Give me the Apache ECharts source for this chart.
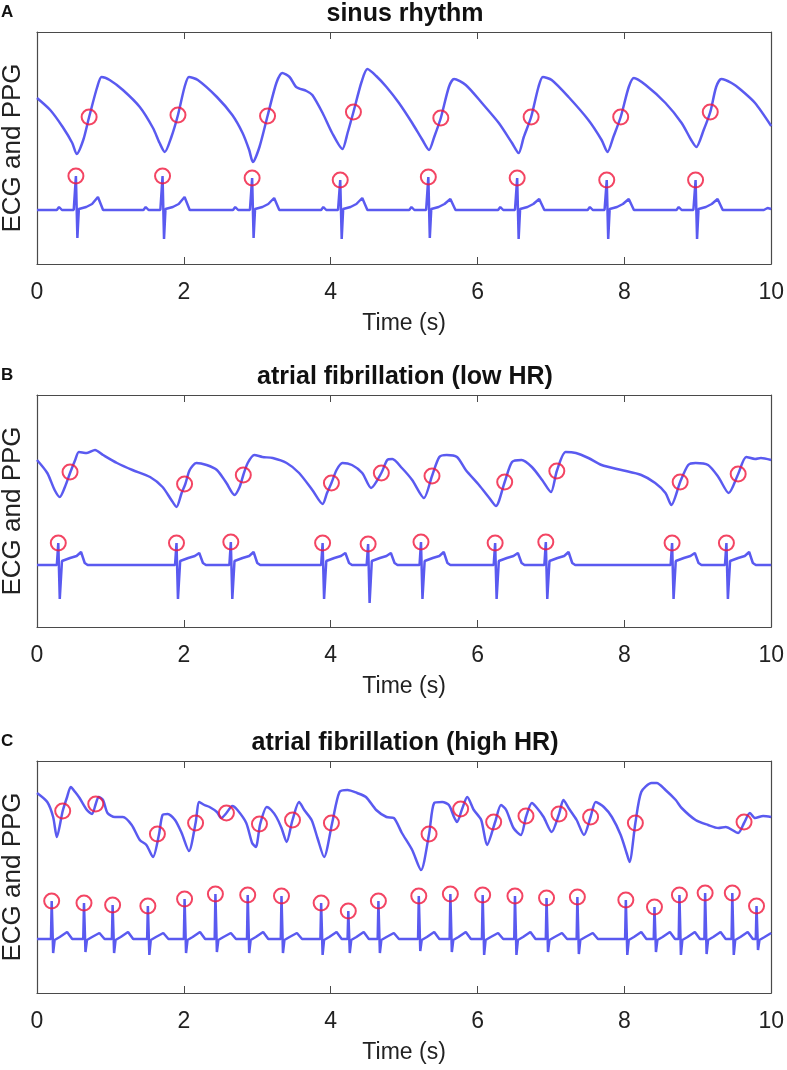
<!DOCTYPE html>
<html>
<head>
<meta charset="utf-8">
<title>ECG and PPG</title>
<script src="https://cdn.jsdelivr.net/npm/echarts/dist/echarts.min.js"></script>
<style>
  html, body { margin: 0; padding: 0; background: #fff; }
  #main { width: 787px; height: 1070px; }
</style>
</head>
<body>
<div id="main"></div>
<script>
// panel titles and letters
var panelTitles = ['sinus rhythm', 'atrial fibrillation (low HR)', 'atrial fibrillation (high HR)'];
var panelLetters = ['A', 'B', 'C'];
var xTicks = [0, 2, 4, 6, 8, 10];

// ---- A: sinus rhythm ----  [time (s), amplitude (a.u.)]
var ppgA = [[0,16.6],[0.18,15.4],[0.35,13.7],[0.48,12.1],[0.54,11.0],[0.63,12.4],[0.71,14.7],[0.82,17.7],[0.88,18.7],[0.99,18.4],
  [1.17,17.4],[1.40,15.7],[1.58,13.6],[1.67,12.1],[1.74,11.2],[1.83,12.7],[1.92,14.9],[2.01,17.7],[2.07,18.7],[2.19,18.4],
  [2.45,16.7],[2.66,14.9],[2.80,13.1],[2.89,11.4],[2.94,10.2],[3.03,11.7],[3.14,14.8],[3.26,18.1],[3.34,19.1],[3.44,18.7],
  [3.53,17.7],[3.67,17.3],[3.75,16.9],[3.89,15.1],[4.02,13.1],[4.16,11.5],[4.23,13.1],[4.31,15.2],[4.42,18.2],[4.50,19.5],
  [4.62,18.8],[4.76,17.7],[4.93,16.1],[5.11,14.1],[5.25,12.4],[5.34,11.4],[5.41,12.7],[5.50,14.6],[5.61,17.7],[5.68,18.5],
  [5.84,17.9],[6.06,16.1],[6.29,14.1],[6.47,12.1],[6.56,11.1],[6.63,12.7],[6.73,14.7],[6.83,17.7],[6.89,18.7],[7.01,18.4],
  [7.24,16.7],[7.51,14.4],[7.69,12.4],[7.77,11.2],[7.85,12.7],[7.95,14.7],[8.06,17.7],[8.13,18.6],[8.29,17.9],[8.56,16.1],
  [8.78,14.1],[8.91,12.4],[8.98,11.7],[9.08,13.4],[9.17,15.2],[9.25,17.7],[9.32,18.5],[9.46,18.1],[9.59,17.4],[9.78,16.1],[10,13.8]];
var ecgA = [[0,5.4],
  [0.27,5.4],[0.30,5.7],[0.34,5.4],[0.50,5.4],[0.53,8.8],[0.55,2.6],[0.57,5.5],[0.67,5.7],[0.75,6.0],[0.83,6.7],[0.90,5.4],
  [1.45,5.4],[1.48,5.7],[1.52,5.4],[1.68,5.4],[1.71,8.8],[1.73,2.5],[1.75,5.5],[1.85,5.7],[1.93,6.0],[2.01,6.7],[2.08,5.4],
  [2.67,5.4],[2.70,5.7],[2.74,5.4],[2.90,5.4],[2.93,8.6],[2.95,2.6],[2.97,5.5],[3.07,5.7],[3.15,6.0],[3.23,6.6],[3.30,5.4],
  [3.87,5.4],[3.90,5.7],[3.94,5.4],[4.10,5.4],[4.13,8.4],[4.15,2.5],[4.17,5.5],[4.27,5.7],[4.35,6.0],[4.43,6.6],[4.50,5.4],
  [5.07,5.4],[5.10,5.7],[5.14,5.4],[5.30,5.4],[5.33,8.7],[5.35,2.6],[5.37,5.5],[5.47,5.7],[5.55,6.0],[5.63,6.5],[5.70,5.4],
  [6.28,5.4],[6.31,5.7],[6.35,5.4],[6.51,5.4],[6.54,8.6],[6.56,2.5],[6.58,5.5],[6.68,5.7],[6.76,6.0],[6.84,6.5],[6.91,5.4],
  [7.50,5.4],[7.53,5.7],[7.57,5.4],[7.73,5.4],[7.76,8.4],[7.78,2.5],[7.80,5.5],[7.90,5.7],[7.98,6.0],[8.06,6.5],[8.13,5.4],
  [8.71,5.4],[8.74,5.7],[8.78,5.4],[8.94,5.4],[8.97,8.4],[8.99,2.5],[9.01,5.5],[9.11,5.7],[9.19,6.0],[9.27,6.5],[9.34,5.4],
  [9.90,5.4],[9.95,5.6],[10,5.5]];
var ppgMarksA = [[0.71,14.7],[1.92,14.9],[3.14,14.8],[4.31,15.2],[5.50,14.6],[6.73,14.7],[7.95,14.7],[9.17,15.2]];
var rPeaksA = [[0.53,8.8],[1.71,8.8],[2.93,8.6],[4.13,8.4],[5.33,8.7],[6.54,8.6],[7.76,8.4],[8.97,8.4]];

// ---- B: atrial fibrillation (low HR) ----
var ppgB = [[0,16.7],[0.14,15.4],[0.24,13.7],[0.31,13.0],[0.38,14.0],[0.45,15.4],[0.52,16.7],[0.57,17.5],[0.68,17.4],[0.79,17.7],
  [0.90,17.2],[1.09,16.4],[1.30,15.7],[1.54,15.0],[1.71,14.0],[1.83,12.7],[1.90,12.0],[1.97,13.4],[2.02,14.3],[2.08,15.7],
  [2.17,16.4],[2.31,16.2],[2.45,15.7],[2.58,14.4],[2.69,13.2],[2.76,14.0],[2.81,15.2],[2.87,16.4],[2.96,17.2],[3.07,17.0],
  [3.21,16.9],[3.40,16.4],[3.57,15.4],[3.75,13.7],[3.89,12.3],[3.95,13.4],[4.01,14.4],[4.08,15.7],[4.16,16.4],[4.29,16.2],
  [4.43,15.4],[4.55,13.9],[4.69,15.4],[4.77,16.7],[4.84,16.8],[4.97,15.9],[5.11,14.7],[5.27,12.9],[5.38,15.1],[5.48,17.0],
  [5.58,17.2],[5.72,17.0],[5.84,15.7],[6.02,14.2],[6.15,13.0],[6.25,12.1],[6.37,14.5],[6.47,16.5],[6.60,16.7],[6.74,16.0],
  [6.88,14.7],[7.00,13.5],[7.08,15.6],[7.20,17.5],[7.34,17.4],[7.51,16.9],[7.69,16.2],[7.96,15.7],[8.23,15.2],[8.42,14.4],
  [8.56,13.4],[8.64,12.2],[8.76,14.5],[8.87,16.2],[8.97,16.4],[9.14,16.2],[9.28,15.0],[9.42,13.4],[9.55,15.3],[9.66,17.0],
  [9.78,16.8],[9.86,16.9],[10,16.7]];
var ecgB = [[0,6.2],
  [0.27,6.2],[0.29,8.4],[0.31,2.8],[0.34,6.6],[0.45,6.9],[0.54,7.1],[0.60,7.5],[0.65,6.4],[0.69,6.2],
  [1.88,6.2],[1.90,8.4],[1.92,2.8],[1.95,6.6],[2.06,6.9],[2.15,7.1],[2.21,7.4],[2.26,6.4],[2.30,6.2],
  [2.62,6.2],[2.64,8.5],[2.66,2.8],[2.69,6.6],[2.80,6.9],[2.89,7.1],[2.95,7.5],[3.00,6.4],[3.04,6.2],
  [3.87,6.2],[3.89,8.4],[3.91,2.8],[3.94,6.6],[4.05,6.9],[4.14,7.1],[4.20,7.4],[4.25,6.4],[4.29,6.2],
  [4.49,6.2],[4.51,8.3],[4.53,2.4],[4.56,6.6],[4.67,6.9],[4.76,7.1],[4.82,7.4],[4.87,6.4],[4.91,6.2],
  [5.21,6.2],[5.23,8.5],[5.25,2.8],[5.28,6.6],[5.39,6.9],[5.48,7.1],[5.54,7.5],[5.59,6.4],[5.63,6.2],
  [6.22,6.2],[6.24,8.4],[6.26,2.8],[6.29,6.6],[6.40,6.9],[6.49,7.1],[6.55,7.4],[6.60,6.4],[6.64,6.2],
  [6.91,6.2],[6.93,8.5],[6.95,2.8],[6.98,6.6],[7.09,6.9],[7.18,7.1],[7.24,7.5],[7.29,6.4],[7.33,6.2],
  [8.63,6.2],[8.65,8.4],[8.67,2.8],[8.70,6.6],[8.81,6.9],[8.90,7.1],[8.96,7.4],[9.01,6.4],[9.05,6.2],
  [9.37,6.2],[9.39,8.4],[9.41,2.8],[9.44,6.6],[9.55,6.9],[9.64,7.1],[9.70,7.5],[9.75,6.4],[9.79,6.2],
  [10,6.2]];
var ppgMarksB = [[0.45,15.5],[2.01,14.3],[2.81,15.2],[4.01,14.4],[4.69,15.4],[5.38,15.1],[6.37,14.5],[7.08,15.6],[8.76,14.5],[9.55,15.3]];
var rPeaksB = [[0.29,8.4],[1.90,8.4],[2.64,8.5],[3.89,8.4],[4.51,8.3],[5.23,8.5],[6.24,8.4],[6.93,8.5],[8.65,8.4],[9.39,8.4]];

// ---- C: atrial fibrillation (high HR) ----
var ppgC = [[0,20.0],[0.14,19.1],[0.22,17.6],[0.27,15.6],[0.35,18.2],[0.41,19.6],[0.46,20.6],[0.52,20.1],[0.58,19.5],[0.68,18.3],
  [0.75,17.9],[0.80,18.9],[0.84,19.6],[0.90,19.3],[0.96,18.0],[1.06,17.6],[1.17,17.6],[1.29,16.8],[1.40,15.3],[1.49,14.8],
  [1.58,13.6],[1.66,15.8],[1.71,17.8],[1.78,17.9],[1.88,17.3],[1.97,16.0],[2.07,14.2],[2.16,17.0],[2.21,19.1],[2.28,18.8],
  [2.35,18.6],[2.45,18.1],[2.51,17.5],[2.58,18.0],[2.66,18.7],[2.73,18.3],[2.85,17.0],[2.93,15.0],[2.98,14.6],[3.04,16.9],
  [3.13,18.6],[3.19,18.3],[3.26,17.6],[3.33,16.5],[3.40,15.1],[3.48,17.3],[3.57,19.1],[3.64,18.3],[3.74,17.3],[3.82,15.5],
  [3.91,13.6],[4.02,17.0],[4.12,20.1],[4.23,20.3],[4.36,20.0],[4.48,19.6],[4.62,18.3],[4.76,17.6],[4.86,17.5],[4.97,16.0],
  [5.11,14.3],[5.23,12.3],[5.34,15.9],[5.41,19.0],[5.52,19.1],[5.61,18.8],[5.68,17.6],[5.72,17.1],[5.79,18.4],[5.86,19.6],
  [5.95,18.3],[6.05,17.3],[6.13,14.8],[6.24,17.1],[6.32,18.8],[6.39,18.3],[6.49,16.5],[6.59,15.8],[6.66,17.6],[6.74,19.0],
  [6.81,18.5],[6.90,17.6],[7.01,16.1],[7.11,17.9],[7.17,19.3],[7.24,18.5],[7.35,17.3],[7.45,15.8],[7.54,17.6],[7.61,19.1],
  [7.72,18.6],[7.83,17.6],[7.95,15.8],[8.03,14.0],[8.07,13.1],[8.15,17.0],[8.23,20.1],[8.37,21.0],[8.44,21.0],[8.56,20.3],
  [8.70,19.3],[8.78,18.5],[8.97,17.3],[9.14,16.8],[9.28,16.5],[9.38,16.6],[9.55,16.0],[9.63,17.0],[9.71,18.0],[9.78,17.5],
  [9.89,17.7],[10,17.6]];
var ecgC = [[0,5.4],
  [0.19,5.4],[0.20,9.2],[0.22,4.0],[0.24,5.3],[0.31,5.6],[0.41,6.1],[0.48,5.4],
  [0.63,5.4],[0.64,9.0],[0.66,4.1],[0.68,5.3],[0.75,5.6],[0.85,6.0],[0.92,5.4],
  [1.02,5.4],[1.03,8.8],[1.05,4.0],[1.07,5.3],[1.14,5.6],[1.24,6.1],[1.31,5.4],
  [1.50,5.4],[1.51,8.7],[1.53,3.8],[1.55,5.3],[1.62,5.6],[1.72,6.0],[1.79,5.4],
  [2.00,5.4],[2.01,9.4],[2.03,4.0],[2.05,5.3],[2.12,5.6],[2.22,6.1],[2.29,5.4],
  [2.42,5.4],[2.43,9.9],[2.45,4.1],[2.47,5.3],[2.54,5.6],[2.64,6.0],[2.71,5.4],
  [2.86,5.4],[2.87,9.8],[2.89,4.0],[2.91,5.3],[2.98,5.6],[3.08,6.1],[3.15,5.4],
  [3.32,5.4],[3.33,9.7],[3.35,4.0],[3.37,5.3],[3.44,5.6],[3.54,6.0],[3.61,5.4],
  [3.86,5.4],[3.87,9.0],[3.89,3.8],[3.91,5.3],[3.98,5.6],[4.08,6.1],[4.15,5.4],
  [4.23,5.4],[4.24,8.2],[4.26,4.0],[4.28,5.3],[4.35,5.6],[4.45,6.1],[4.52,5.4],
  [4.64,5.4],[4.65,9.2],[4.67,4.0],[4.69,5.3],[4.76,5.6],[4.86,6.0],[4.93,5.4],
  [5.19,5.4],[5.20,9.7],[5.22,4.2],[5.24,5.3],[5.31,5.6],[5.41,6.1],[5.48,5.4],
  [5.62,5.4],[5.63,9.9],[5.65,4.1],[5.67,5.3],[5.74,5.6],[5.84,6.1],[5.91,5.4],
  [6.06,5.4],[6.07,9.8],[6.09,3.8],[6.11,5.3],[6.18,5.6],[6.28,6.0],[6.35,5.4],
  [6.50,5.4],[6.51,9.7],[6.53,3.8],[6.55,5.3],[6.62,5.6],[6.72,6.1],[6.79,5.4],
  [6.93,5.4],[6.94,9.5],[6.96,4.1],[6.98,5.3],[7.05,5.6],[7.15,6.0],[7.22,5.4],
  [7.35,5.4],[7.36,9.6],[7.38,3.9],[7.40,5.3],[7.47,5.6],[7.57,6.0],[7.64,5.4],
  [8.01,5.4],[8.02,9.3],[8.04,3.8],[8.06,5.3],[8.13,5.6],[8.23,6.1],[8.30,5.4],
  [8.40,5.4],[8.41,8.6],[8.43,4.1],[8.45,5.3],[8.52,5.6],[8.62,6.1],[8.69,5.4],
  [8.74,5.4],[8.75,9.8],[8.77,3.8],[8.79,5.3],[8.86,5.6],[8.96,6.1],[9.03,5.4],
  [9.09,5.4],[9.10,10.0],[9.12,3.9],[9.14,5.3],[9.21,5.6],[9.31,6.1],[9.38,5.4],
  [9.46,5.4],[9.47,10.0],[9.49,3.8],[9.51,5.3],[9.58,5.6],[9.68,6.1],[9.75,5.4],
  [9.79,5.4],[9.80,8.7],[9.82,4.3],[9.84,5.3],[9.91,5.6],[10,6.0]];
var ppgMarksC = [[0.35,18.2],[0.80,18.9],[1.64,15.9],[2.16,17.0],[2.58,18.0],[3.03,16.9],[3.48,17.3],[4.01,17.0],
  [5.34,15.9],[5.77,18.4],[6.22,17.1],[6.66,17.7],[7.11,17.9],[7.54,17.6],[8.15,17.0],[9.63,17.1]];
var rPeaksC = [[0.20,9.2],[0.64,9.0],[1.03,8.8],[1.51,8.7],[2.01,9.4],[2.43,9.9],[2.87,9.8],[3.33,9.7],[3.87,9.0],[4.24,8.2],
  [4.65,9.2],[5.20,9.7],[5.63,9.9],[6.07,9.8],[6.51,9.7],[6.94,9.5],[7.36,9.6],[8.02,9.3],[8.41,8.6],[8.75,9.8],
  [9.10,10.0],[9.47,10.0],[9.80,8.7]];

var panels = [
  {ppg: ppgA, ecg: ecgA, ppgMarks: ppgMarksA, rPeaks: rPeaksA},
  {ppg: ppgB, ecg: ecgB, ppgMarks: ppgMarksB, rPeaks: rPeaksB},
  {ppg: ppgC, ecg: ecgC, ppgMarks: ppgMarksC, rPeaks: rPeaksC}
];

var LINE_COLOR = '#5a5af0';
var MARK_COLOR = '#f0163c';
var AXIS_COLOR = '#4a4a4a';
var FONT = 'Liberation Sans, Arial, sans-serif';
var gridTops = [32, 395, 761];
var GRID_H = 232, GRID_L = 37, GRID_R = 14;

var option = {
  animation: false,
  backgroundColor: '#fff',
  title: [], grid: [], xAxis: [], yAxis: [], series: [], graphic: []
};

for (var i = 0; i < 3; i++) {
  var gTop = gridTops[i];
  option.grid.push({left: GRID_L, right: GRID_R, top: gTop, height: GRID_H});
  option.title.push({
    text: panelTitles[i], left: 405, top: gTop - 30, textAlign: 'center', padding: 0,
    textStyle: {fontFamily: FONT, fontSize: 25, fontWeight: 'bold', color: '#111'}
  });
  // bottom x axis (labels + name)
  option.xAxis.push({
    type: 'value', gridIndex: i, min: 0, max: 10, interval: 2, position: 'bottom',
    axisLine: {onZero: false, lineStyle: {color: AXIS_COLOR, width: 1.2}},
    axisTick: {inside: true, length: 7, lineStyle: {color: AXIS_COLOR}},
    axisLabel: {fontFamily: FONT, fontSize: 23, color: '#222', margin: 17,
      formatter: function(v){ return xTicks.indexOf(v) >= 0 ? String(v) : ''; }},
    splitLine: {show: false},
    name: 'Time (s)', nameLocation: 'middle', nameGap: 48,
    nameTextStyle: {fontFamily: FONT, fontSize: 23, color: '#222'}
  });
  // top x axis (box + ticks only)
  option.xAxis.push({
    type: 'value', gridIndex: i, min: 0, max: 10, interval: 2, position: 'top',
    axisLine: {onZero: false, lineStyle: {color: AXIS_COLOR, width: 1.2}},
    axisTick: {inside: true, length: 7, lineStyle: {color: AXIS_COLOR}},
    axisLabel: {show: false}, splitLine: {show: false}
  });
  option.yAxis.push({
    type: 'value', gridIndex: i, min: 0, max: 23.2, position: 'left',
    axisLine: {show: true, onZero: false, lineStyle: {color: AXIS_COLOR, width: 1.2}},
    axisTick: {show: false}, axisLabel: {show: false}, splitLine: {show: false}
  });
  option.yAxis.push({
    type: 'value', gridIndex: i, min: 0, max: 23.2, position: 'right',
    axisLine: {show: true, onZero: false, lineStyle: {color: AXIS_COLOR, width: 1.2}},
    axisTick: {show: false}, axisLabel: {show: false}, splitLine: {show: false}
  });

  var p = panels[i];
  option.series.push({
    name: 'PPG', type: 'line', xAxisIndex: 2*i, yAxisIndex: 2*i, data: p.ppg,
    showSymbol: false, smooth: 0.25, lineStyle: {color: LINE_COLOR, width: 2.5}
  });
  option.series.push({
    name: 'ECG', type: 'line', xAxisIndex: 2*i, yAxisIndex: 2*i, data: p.ecg,
    showSymbol: false, lineStyle: {color: LINE_COLOR, width: 2.5}
  });
  option.series.push({
    type: 'scatter', xAxisIndex: 2*i, yAxisIndex: 2*i, data: p.ppgMarks, symbolSize: 15, z: 5,
    itemStyle: {color: 'rgba(0,0,0,0)', borderColor: MARK_COLOR, borderWidth: 2}
  });
  option.series.push({
    type: 'scatter', xAxisIndex: 2*i, yAxisIndex: 2*i, data: p.rPeaks, symbolSize: 15, z: 5,
    itemStyle: {color: 'rgba(0,0,0,0)', borderColor: MARK_COLOR, borderWidth: 2}
  });

  option.graphic.push({
    type: 'text', left: 1, top: gTop - 28,
    style: {text: panelLetters[i], font: 'bold 17px ' + FONT, fill: '#111'}
  });
  option.graphic.push({
    type: 'text', x: 13, y: gTop + GRID_H / 2, rotation: Math.PI / 2,
    style: {text: 'ECG and PPG', font: '26px ' + FONT, fill: '#222',
      textAlign: 'center', textVerticalAlign: 'middle'}
  });
}

var chart = echarts.init(document.getElementById('main'), null, {renderer: 'canvas'});
chart.setOption(option);
</script>
</body>
</html>
